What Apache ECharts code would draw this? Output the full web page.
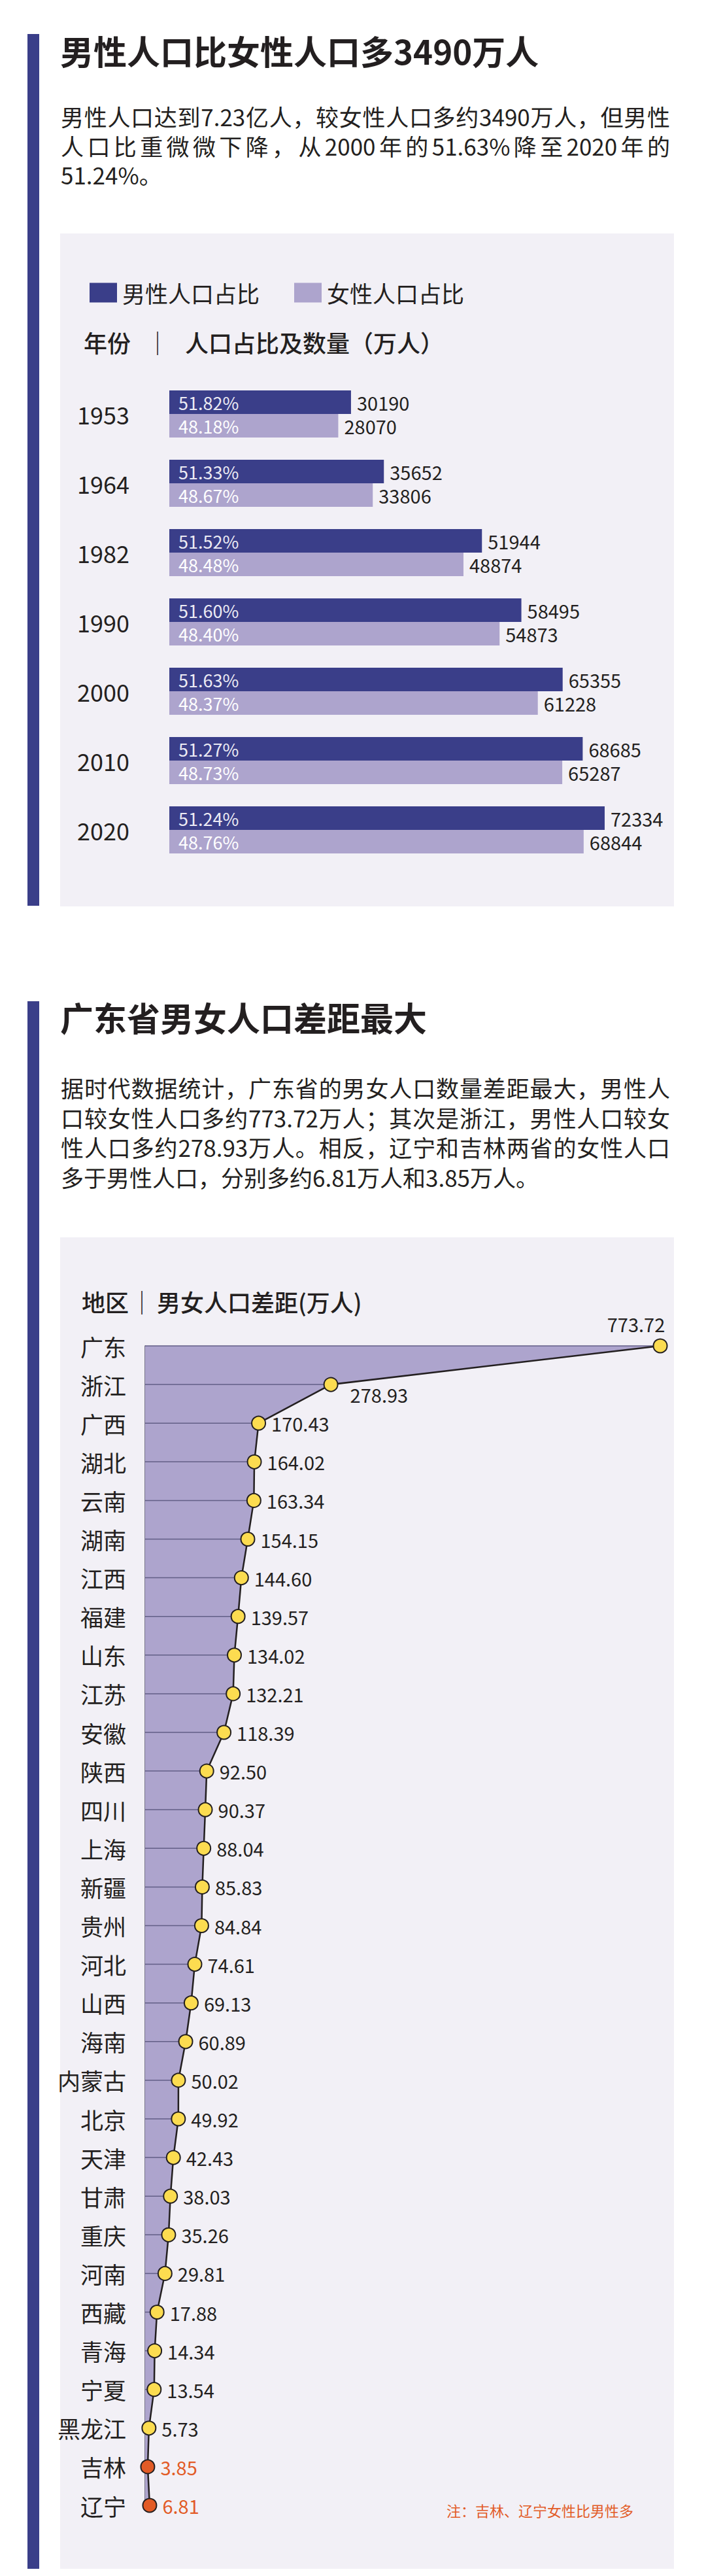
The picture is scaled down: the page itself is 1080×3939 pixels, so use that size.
<!DOCTYPE html>
<html lang="zh-CN">
<head>
<meta charset="utf-8">
<script src="https://cdn.jsdelivr.net/npm/echarts@6/dist/echarts.min.js"></script>
<style>
html,body{margin:0;padding:0;background:#fff;}
body{width:1080px;height:3939px;position:relative;overflow:hidden;font-family:'Noto Sans CJK SC','Noto Sans',sans-serif;color:#231f20;}
.sidebar{position:absolute;left:42px;width:18px;background:#3a3e89;}
.title{position:absolute;left:92px;font-size:51px;font-weight:700;line-height:60px;white-space:nowrap;}
.para{position:absolute;left:93px;width:932px;font-size:35px;}
.para div{text-align:justify;text-align-last:justify;}
.para div.last{text-align-last:left;}
.panel{position:absolute;left:92px;width:939px;background:#f2f0f6;}
.chart{position:absolute;left:0;width:1080px;}
</style>
</head>
<body>
<div class="sidebar" style="top:52px;height:1333px;"></div>
<div class="title" style="top:47px;">男性人口比女性人口多3490万人</div>
<div class="para" style="top:156px;line-height:44.5px;">
<div>男性人口达到7.23亿人，较女性人口多约3490万人，但男性</div>
<div>人口比重微微下降，从2000年的51.63%降至2020年的</div>
<div class="last">51.24%。</div>
</div>
<div class="panel" style="top:357px;height:1029px;"></div>
<div class="chart" id="c1" style="top:357px;height:1029px;"></div>

<div class="sidebar" style="top:1531px;height:2397px;"></div>
<div class="title" style="top:1525px;">广东省男女人口差距最大</div>
<div class="para" style="top:1640px;line-height:45.7px;">
<div>据时代数据统计，广东省的男女人口数量差距最大，男性人</div>
<div>口较女性人口多约773.72万人；其次是浙江，男性人口较女</div>
<div>性人口多约278.93万人。相反，辽宁和吉林两省的女性人口</div>
<div class="last">多于男性人口，分别多约6.81万人和3.85万人。</div>
</div>
<div class="panel" style="top:1892px;height:2036px;"></div>
<div class="chart" id="c2" style="top:1892px;height:2036px;"></div>

<script>
// ---- Chart 1 data ----
const years = ['1953', '1964', '1982', '1990', '2000', '2010', '2020'];
const malePop = [30190, 35652, 51944, 58495, 65355, 68685, 72334];
const femalePop = [28070, 33806, 48874, 54873, 61228, 65287, 68844];
const malePct = ['51.82', '51.33', '51.52', '51.60', '51.63', '51.27', '51.24'];
const femalePct = ['48.18', '48.67', '48.48', '48.40', '48.37', '48.73', '48.76'];

// ---- Chart 2 data ----
const regions = ['广东', '浙江', '广西', '湖北', '云南', '湖南', '江西', '福建', '山东', '江苏', '安徽', '陕西', '四川', '上海', '新疆', '贵州', '河北', '山西', '海南', '内蒙古', '北京', '天津', '甘肃', '重庆', '河南', '西藏', '青海', '宁夏', '黑龙江', '吉林', '辽宁'];
const gapValues = [773.72, 278.93, 170.43, 164.02, 163.34, 154.15, 144.60, 139.57, 134.02, 132.21, 118.39, 92.50, 90.37, 88.04, 85.83, 84.84, 74.61, 69.13, 60.89, 50.02, 49.92, 42.43, 38.03, 35.26, 29.81, 17.88, 14.34, 13.54, 5.73, 3.85, 6.81];
const femaleMoreRegions = ['吉林', '辽宁'];

const CJK = "'Noto Sans CJK SC','Noto Sans',sans-serif";
const NARROW = "'Liberation Sans Narrow','Noto Sans CJK SC',sans-serif";
const DARK = '#231f20';
const MALE = '#3a3e89';
const FEMALE = '#ada4cd';
const ORANGE = '#e25b26';

const c1 = echarts.init(document.getElementById('c1'), null, {renderer: 'svg'});
c1.setOption({
  animation: false,
  textStyle: {fontFamily: CJK},
  legend: {
    left: 132, top: 68, itemWidth: 42, itemHeight: 30, itemGap: 53, icon: 'rect',
    data: ['男性人口占比', '女性人口占比'],
    textStyle: {fontSize: 35, lineHeight: 34, color: DARK, fontFamily: CJK, padding: [0, 0, 0, 3]}
  },
  graphic: [
    {type: 'text', x: 128, y: 166, style: {text: '年份', fontSize: 36, fontWeight: 500, fontFamily: CJK, fill: DARK, verticalAlign: 'middle'}},
    {type: 'text', x: 241, y: 166, style: {text: '｜', fontSize: 36, fontFamily: CJK, fill: DARK, align: 'center', verticalAlign: 'middle'}},
    {type: 'text', x: 283, y: 166, style: {text: '人口占比及数量（万人）', fontSize: 36, fontWeight: 500, fontFamily: CJK, fill: DARK, verticalAlign: 'middle'}}
  ],
  grid: {left: 259, top: 223, width: 736.56, height: 742, containLabel: false, outerBoundsMode: 'none'},
  xAxis: {type: 'value', min: 0, max: 80000, show: false},
  yAxis: [
    {type: 'category', data: years, inverse: true, axisLine: {show: false}, axisTick: {show: false}, splitLine: {show: false},
     axisLabel: {margin: 61, fontSize: 36, color: DARK, fontFamily: NARROW}},
    {type: 'category', data: years, inverse: true, show: false}
  ],
  series: [
    {name: '男性人口占比', type: 'bar', yAxisIndex: 0, data: malePop, barWidth: 36, barGap: '0%',
     itemStyle: {color: MALE},
     label: {show: true, position: 'right', distance: 9, fontSize: 29, color: DARK, fontFamily: CJK}},
    {name: '女性人口占比', type: 'bar', yAxisIndex: 0, data: femalePop, barWidth: 36, barGap: '0%',
     itemStyle: {color: FEMALE},
     label: {show: true, position: 'right', distance: 9, fontSize: 29, color: DARK, fontFamily: CJK}},
    {name: '男性占比', type: 'bar', yAxisIndex: 1, data: malePop, barWidth: 36, barGap: '0%', silent: true,
     itemStyle: {color: 'rgba(0,0,0,0)'},
     label: {show: true, position: 'insideLeft', distance: 14, fontSize: 27, color: '#ecebf4', fontFamily: CJK,
             formatter: p => malePct[p.dataIndex] + '%'}},
    {name: '女性占比', type: 'bar', yAxisIndex: 1, data: femalePop, barWidth: 36, barGap: '0%', silent: true,
     itemStyle: {color: 'rgba(0,0,0,0)'},
     label: {show: true, position: 'insideLeft', distance: 14, fontSize: 27, color: '#ffffff', fontFamily: CJK,
             formatter: p => femalePct[p.dataIndex] + '%'}}
  ]
});

const lineData = gapValues.map((v, i) => {
  const item = {value: v};
  if (i === 0) item.label = {position: 'top', offset: [-37, 0]};
  if (i === 1) item.label = {offset: [10, 15]};
  if (femaleMoreRegions.indexOf(regions[i]) >= 0) {
    item.itemStyle = {color: ORANGE};
    item.label = {color: ORANGE};
  }
  return item;
});

const c2 = echarts.init(document.getElementById('c2'), null, {renderer: 'svg'});
c2.setOption({
  animation: false,
  textStyle: {fontFamily: CJK},
  graphic: [
    {type: 'text', x: 125, y: 98, style: {text: '地区', fontSize: 36, fontWeight: 500, fontFamily: CJK, fill: DARK, verticalAlign: 'middle'}},
    {type: 'text', x: 217, y: 98, style: {text: '｜', fontSize: 36, fontFamily: CJK, fill: DARK, align: 'center', verticalAlign: 'middle'}},
    {type: 'text', x: 240, y: 98, style: {text: '男女人口差距(万人)', fontSize: 36, fontWeight: 500, fontFamily: CJK, fill: DARK, verticalAlign: 'middle'}},
    {type: 'text', x: 683, y: 1946, style: {text: '注：吉林、辽宁女性比男性多', fontSize: 22, fontFamily: CJK, fill: ORANGE, verticalAlign: 'middle'}}
  ],
  grid: {left: 222, top: 166, width: 794.43, height: 1773, containLabel: false, outerBoundsMode: 'none'},
  xAxis: {type: 'value', min: 0, max: 780, show: false},
  yAxis: {
    type: 'category', data: regions, inverse: true, boundaryGap: false,
    axisLine: {show: true, lineStyle: {color: '#4f4c63', width: 1.5}},
    axisTick: {show: false}, splitLine: {show: false},
    axisLabel: {margin: 29, fontSize: 35, color: DARK, fontFamily: CJK, interval: 0}
  },
  series: [
    {name: '面积', type: 'line', data: gapValues, symbol: 'none', silent: true, z: 1,
     lineStyle: {width: 0}, areaStyle: {color: FEMALE, opacity: 1}},
    {name: '基线', type: 'bar', data: gapValues, barWidth: 1.5, silent: true, z: 2,
     itemStyle: {color: '#625e86'}},
    {name: '男女人口差距', type: 'line', data: lineData, symbol: 'circle', symbolSize: 21, z: 3,
     lineStyle: {color: DARK, width: 2.5},
     itemStyle: {color: '#fcdc50', borderColor: DARK, borderWidth: 2},
     label: {show: true, position: 'right', distance: 8, fontSize: 29, color: DARK, fontFamily: CJK,
             formatter: p => Number(p.value).toFixed(2)}}
  ]
});
</script>
</body>
</html>
